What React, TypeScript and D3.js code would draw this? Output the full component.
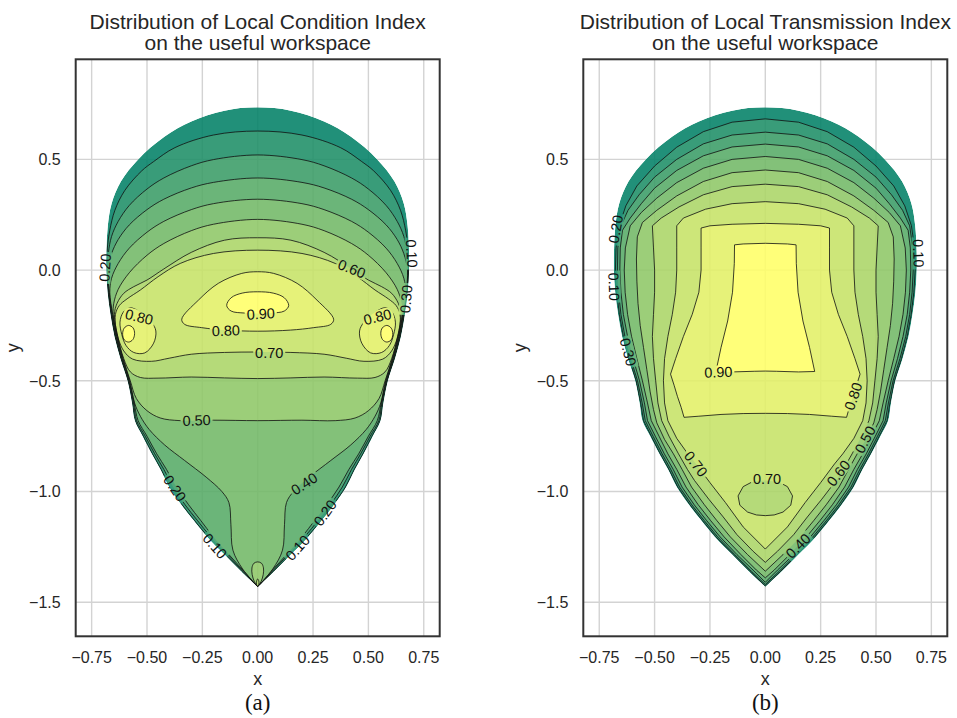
import React from "react";
import * as d3 from "d3";

type P = [number, number];

// axis ticks and contour levels
const xTicks = [-0.75, -0.5, -0.25, 0, 0.25, 0.5, 0.75];
const yTicks = [0.5, 0, -0.5, -1, -1.5];
const levels = [0.1, 0.2, 0.3, 0.4, 0.5, 0.6, 0.7, 0.8, 0.9];

// useful workspace outline: right half, from the top down to the lower tip (mirrored for the left half)
const workspaceHalf: P[] = [
  [0, 0.735], [0.15, 0.72], [0.3, 0.671], [0.42, 0.603], [0.54, 0.5], [0.618, 0.4], [0.66, 0.3],
  [0.677, 0.2], [0.683, 0.1], [0.684, 0], [0.678, -0.1], [0.665, -0.2], [0.647, -0.3], [0.62, -0.4],
  [0.588, -0.5], [0.568, -0.6], [0.555, -0.68], [0.52, -0.75], [0.479, -0.83], [0.44, -0.9],
  [0.4, -0.98], [0.345, -1.06], [0.29, -1.13], [0.228, -1.205], [0.15, -1.285], [0.075, -1.36], [0, -1.431],
];

// (a) Local Condition Index: superlevel outlines, right halves (top -> bottom)
const lci01: P[] = [
  [0, 0.628], [0.2, 0.61], [0.374, 0.553], [0.47, 0.49], [0.524, 0.448], [0.6, 0.36], [0.645, 0.27],
  [0.668, 0.18], [0.679, 0.1], [0.6815, 0], [0.6755, -0.1], [0.6625, -0.2], [0.6445, -0.3], [0.6175, -0.4],
  [0.5855, -0.5], [0.565, -0.6], [0.552, -0.68], [0.516, -0.75], [0.475, -0.83], [0.436, -0.9], [0.396, -0.98],
  [0.341, -1.06], [0.286, -1.13], [0.224, -1.205], [0.146, -1.285], [0.072, -1.36], [0, -1.431],
];
const lci02: P[] = [
  [0, 0.52], [0.2, 0.499], [0.3, 0.471], [0.424, 0.416], [0.5, 0.366], [0.58, 0.292], [0.63, 0.22],
  [0.66, 0.152], [0.674, 0.08], [0.679, 0], [0.673, -0.1], [0.66, -0.2], [0.642, -0.3], [0.615, -0.4],
  [0.583, -0.5], [0.561, -0.6], [0.547, -0.68], [0.508, -0.75], [0.465, -0.83], [0.424, -0.9], [0.382, -0.98],
  [0.328, -1.06], [0.273, -1.13], [0.212, -1.205], [0.137, -1.285], [0.067, -1.36], [0, -1.431],
];
const lci03: P[] = [
  [0, 0.416], [0.2, 0.396], [0.3, 0.371], [0.424, 0.32], [0.5, 0.273], [0.58, 0.204], [0.63, 0.138],
  [0.66, 0.074], [0.6765, 0], [0.6705, -0.1], [0.6575, -0.2], [0.6395, -0.3], [0.6125, -0.4], [0.5805, -0.5],
  [0.558, -0.6], [0.54, -0.68], [0.5, -0.75], [0.456, -0.83], [0.412, -0.9], [0.367, -0.98], [0.312, -1.06],
  [0.258, -1.13], [0.2, -1.205], [0.13, -1.285], [0.062, -1.36], [0, -1.431],
];
const lci04: P[] = [
  [0, 0.32], [0.2, 0.3], [0.3, 0.273], [0.424, 0.22], [0.5, 0.171], [0.58, 0.099], [0.63, 0.03],
  [0.66, -0.037], [0.668, -0.1], [0.655, -0.2], [0.637, -0.3], [0.61, -0.4], [0.578, -0.5], [0.556, -0.6],
  [0.53, -0.66], [0.49, -0.72], [0.42, -0.79], [0.33, -0.86], [0.233, -0.935], [0.162, -1.0], [0.13, -1.05],
  [0.121, -1.15], [0.112, -1.265], [0.068, -1.35], [0, -1.431],
];
const lci05: P[] = [
  [0, 0.229], [0.2, 0.207], [0.3, 0.178], [0.424, 0.12], [0.5, 0.067], [0.58, -0.012], [0.63, -0.087],
  [0.65, -0.15], [0.6525, -0.2], [0.6345, -0.3], [0.6075, -0.4], [0.5755, -0.5], [0.548, -0.58],
  [0.5, -0.635], [0.44, -0.668], [0.35, -0.68], [0.2, -0.678], [0, -0.68],
];
const lci05Tip: P[] = [
  [0, -1.318], [0.017, -1.324], [0.026, -1.345], [0.025, -1.375], [0.016, -1.405], [0.006, -1.422], [0, -1.431],
];
const lci06: P[] = [
  [0, 0.146], [0.15, 0.135], [0.3, 0.08], [0.424, 0.005], [0.5, -0.045], [0.56, -0.075], [0.605, -0.105],
  [0.635, -0.15], [0.647, -0.2], [0.632, -0.3], [0.605, -0.4], [0.575, -0.46], [0.53, -0.485],
  [0.45, -0.488], [0.3, -0.483], [0.15, -0.487], [0, -0.49],
];
const lci06Tip: P[] = [[0, -1.395], [0.005, -1.405], [0.005, -1.42], [0, -1.431]];
const lci07: P[] = [
  [0, 0.09], [0.2, 0.075], [0.35, 0.03], [0.45, -0.03], [0.53, -0.09], [0.59, -0.13], [0.625, -0.16],
  [0.6425, -0.2], [0.641, -0.26], [0.6295, -0.31], [0.605, -0.365], [0.565, -0.402], [0.48, -0.412],
  [0.4, -0.398], [0.3, -0.38], [0.15, -0.372], [0, -0.37],
];
const lci08Mid: P[] = [
  [0, -0.0075], [0.072, -0.015], [0.178, -0.06], [0.268, -0.136], [0.343, -0.222], [0.33, -0.245],
  [0.253, -0.26], [0.148, -0.271], [0, -0.276],
];
const lci08Side: P[] = [
  [0.577, -0.17], [0.607, -0.19], [0.622, -0.235], [0.614, -0.29], [0.595, -0.34], [0.56, -0.372],
  [0.51, -0.374], [0.47, -0.33], [0.46, -0.275], [0.48, -0.235], [0.53, -0.19],
];
const lci09Mid: P[] = [
  [0, -0.098], [0.07, -0.104], [0.12, -0.125], [0.14, -0.16], [0.12, -0.185], [0.06, -0.194], [0, -0.196],
];
const lci09Side: P[] = [
  [0.583, -0.25], [0.603, -0.262], [0.61, -0.29], [0.602, -0.316], [0.583, -0.325], [0.564, -0.314],
  [0.556, -0.287], [0.563, -0.261],
];
// [text, x, y, angle]
const lciLabels: [string, number, number, number][] = [
  ["0.90", 0.014, -0.197, -3], ["0.80", -0.144, -0.273, -2], ["0.70", 0.052, -0.372, 0],
  ["0.60", 0.425, 0.006, 22], ["0.80", -0.535, -0.211, 14], ["0.80", 0.541, -0.211, -14],
  ["0.50", -0.276, -0.678, -2], ["0.20", -0.69, 0.011, -86], ["0.10", 0.696, 0.075, 87],
  ["0.30", 0.67, -0.131, -85], ["0.20", -0.374, -0.986, 55], ["0.10", -0.193, -1.246, 48],
  ["0.40", 0.21, -0.965, -33], ["0.20", 0.304, -1.096, -54], ["0.10", 0.18, -1.254, -48],
];

// (b) Local Transmission Index
const lti01: P[] = [
  [0, 0.683], [0.15, 0.668], [0.28, 0.625], [0.4, 0.555], [0.5, 0.47], [0.58, 0.38], [0.63, 0.29],
  [0.66, 0.2], [0.674, 0.1], [0.677, 0], [0.671, -0.1], [0.659, -0.2], [0.641, -0.3], [0.615, -0.4],
  [0.583, -0.5], [0.563, -0.6], [0.55, -0.68], [0.515, -0.75], [0.474, -0.83], [0.435, -0.9], [0.395, -0.98],
  [0.34, -1.06], [0.285, -1.13], [0.223, -1.205], [0.145, -1.285], [0.07, -1.36], [0, -1.427],
];
const lti02: P[] = [
  [0, 0.623], [0.15, 0.61], [0.28, 0.57], [0.4, 0.5], [0.5, 0.42], [0.57, 0.34], [0.62, 0.27],
  [0.652, 0.2], [0.666, 0.1], [0.668, 0], [0.663, -0.1], [0.652, -0.2], [0.634, -0.3], [0.608, -0.4],
  [0.577, -0.5], [0.556, -0.6], [0.542, -0.68], [0.507, -0.75], [0.466, -0.83], [0.427, -0.9], [0.387, -0.98],
  [0.332, -1.06], [0.277, -1.13], [0.215, -1.205], [0.138, -1.285], [0.063, -1.36], [0, -1.42],
];
const lti03: P[] = [
  [0, 0.569], [0.15, 0.556], [0.28, 0.516], [0.4, 0.45], [0.5, 0.37], [0.56, 0.3], [0.61, 0.235],
  [0.645, 0.18], [0.655, 0.1], [0.657, 0], [0.652, -0.1], [0.641, -0.2], [0.622, -0.3], [0.597, -0.4],
  [0.568, -0.5], [0.546, -0.6], [0.532, -0.68], [0.497, -0.75], [0.456, -0.83], [0.416, -0.9], [0.376, -0.98],
  [0.321, -1.06], [0.266, -1.13], [0.204, -1.205], [0.128, -1.285], [0.055, -1.355], [0, -1.41],
];
const lti04: P[] = [
  [0, 0.513], [0.15, 0.5], [0.28, 0.46], [0.4, 0.395], [0.49, 0.325], [0.56, 0.26], [0.61, 0.2],
  [0.632, 0.1], [0.637, 0], [0.633, -0.1], [0.622, -0.2], [0.604, -0.3], [0.58, -0.4], [0.555, -0.5],
  [0.532, -0.6], [0.515, -0.68], [0.48, -0.75], [0.44, -0.83], [0.4, -0.9], [0.358, -0.98], [0.303, -1.06],
  [0.248, -1.13], [0.186, -1.205], [0.11, -1.285], [0.04, -1.355], [0, -1.39],
];
const lti05: P[] = [
  [0, 0.452], [0.15, 0.44], [0.28, 0.4], [0.4, 0.335], [0.49, 0.27], [0.555, 0.215], [0.578, 0.15],
  [0.582, 0.05], [0.58, -0.05], [0.575, -0.15], [0.565, -0.25], [0.55, -0.35], [0.535, -0.45], [0.52, -0.55],
  [0.505, -0.63], [0.49, -0.69], [0.455, -0.765], [0.415, -0.83], [0.376, -0.9], [0.333, -0.98],
  [0.275, -1.06], [0.22, -1.13], [0.158, -1.205], [0.08, -1.285], [0, -1.36],
];
const lti06: P[] = [
  [0, 0.388], [0.15, 0.377], [0.28, 0.34], [0.39, 0.285], [0.47, 0.235], [0.51, 0.2], [0.505, 0.1],
  [0.5, 0], [0.5, -0.1], [0.505, -0.2], [0.51, -0.3], [0.505, -0.4], [0.495, -0.5], [0.485, -0.6],
  [0.468, -0.68], [0.435, -0.75], [0.392, -0.83], [0.352, -0.9], [0.32, -0.95], [0.255, -1.035],
  [0.19, -1.115], [0.128, -1.195], [0.055, -1.27], [0, -1.32],
];
const lti07: P[] = [
  [0, 0.309], [0.15, 0.3], [0.27, 0.275], [0.37, 0.235], [0.4, 0.2], [0.4, 0.1], [0.4, 0], [0.405, -0.1],
  [0.42, -0.2], [0.44, -0.3], [0.455, -0.4], [0.46, -0.5], [0.455, -0.6], [0.44, -0.68], [0.4, -0.76],
  [0.35, -0.83], [0.313, -0.875], [0.25, -0.96], [0.18, -1.05], [0.1, -1.16], [0, -1.26],
];
const lti07Hole: P[] = [
  [0, -0.95], [0.06, -0.957], [0.1, -0.978], [0.123, -1.02], [0.115, -1.062], [0.08, -1.093], [0.04, -1.106], [0, -1.109],
];
const lti08: P[] = [
  [0, 0.211], [0.15, 0.207], [0.25, 0.2], [0.29, 0.19], [0.29, 0.1], [0.29, 0], [0.3, -0.1], [0.33, -0.2],
  [0.37, -0.3], [0.405, -0.4], [0.428, -0.47], [0.412, -0.52], [0.397, -0.57], [0.38, -0.62], [0.367, -0.665],
  [0.3, -0.66], [0.2, -0.652], [0.1, -0.648], [0, -0.647],
];
const lti09: P[] = [
  [0, 0.121], [0.1, 0.118], [0.139, 0.114], [0.14, 0.03], [0.148, -0.1], [0.17, -0.23], [0.2, -0.35],
  [0.223, -0.458], [0.15, -0.46], [0.05, -0.457], [0, -0.456],
];
const ltiLabels: [string, number, number, number][] = [
  ["0.20", -0.676, 0.185, -80], ["0.10", -0.683, -0.075, 88], ["0.30", -0.619, -0.37, 75],
  ["0.10", 0.692, 0.076, 88], ["0.90", -0.212, -0.46, -2], ["0.80", 0.397, -0.57, -71],
  ["0.70", -0.313, -0.875, 52], ["0.70", 0.008, -0.943, 0], ["0.60", 0.33, -0.917, -52],
  ["0.50", 0.45, -0.765, -62], ["0.40", 0.148, -1.245, -45],
];

type Part = ["tip" | "half" | "pair", P[]];

const lciContours: Part[][] = [
  [["tip", lci01]],
  [["tip", lci02]],
  [["tip", lci03]],
  [["tip", lci04]],
  [["half", lci05], ["tip", lci05Tip]],
  [["half", lci06], ["tip", lci06Tip]],
  [["half", lci07]],
  [["half", lci08Mid], ["pair", lci08Side]],
  [["half", lci09Mid], ["pair", lci09Side]],
];
const ltiContours: Part[][] = [
  [["half", lti01]],
  [["half", lti02]],
  [["half", lti03]],
  [["half", lti04]],
  [["half", lti05]],
  [["half", lti06]],
  [["half", lti07], ["half", lti07Hole]],
  [["half", lti08]],
  [["half", lti09]],
];

const W = 364;
const H = 577;
const TOP = 59.3;
const FONT = "'Liberation Sans', Arial, Helvetica, sans-serif";

const summer = d3.interpolateRgb("rgb(0,128,102)", "rgb(255,255,102)");

const mirror = (pts: P[]): P[] => pts.map(([x, y]) => [-x, y] as P);
const halfToRing = (half: P[]): P[] => [...half, ...mirror(half.slice(1, -1)).reverse()];
const halfToTipPath = (half: P[]): P[] => [...half.slice().reverse(), ...mirror(half.slice(1))];

const fmtX = (v: number) => (v < 0 ? "\u2212" : "") + Math.abs(v).toFixed(2);
const fmtY = (v: number) => (v < 0 ? "\u2212" : "") + Math.abs(v).toFixed(1);

function Panel({ x0, id, contours, labels, smooth, title, tag }: {
  x0: number; id: string; contours: Part[][]; labels: [string, number, number, number][];
  smooth: boolean; title: string[]; tag: string;
}) {
  const xs = d3.scaleLinear().domain([-0.822, 0.822]).range([0, W]);
  const ys = d3.scaleLinear().domain([0.952, -1.654]).range([0, H]);

  const base = d3.line<P>().x((d) => xs(d[0])).y((d) => ys(d[1]));
  const closed = base.curve(smooth ? d3.curveCatmullRomClosed.alpha(0.5) : d3.curveLinearClosed);
  const closedPath = (pts: P[]) => closed(pts) as string;
  const openPath = (pts: P[]) =>
    (d3.line<P>().x((d) => xs(d[0])).y((d) => ys(d[1]))
      .curve(smooth ? d3.curveCatmullRom.alpha(0.5) : d3.curveLinear)(pts) as string) + "Z";

  const partPath = ([kind, pts]: Part) => {
    if (kind === "tip") return openPath(halfToTipPath(pts));
    if (kind === "half") return closedPath(halfToRing(pts));
    return closedPath(pts) + closedPath(mirror(pts));
  };

  const outline = (d3.line<P>().x((d) => xs(d[0])).y((d) => ys(d[1]))
    .curve(d3.curveCatmullRom.alpha(0.5))(halfToTipPath(workspaceHalf)) as string) + "Z";
  const levelPaths = contours.map((parts) => parts.map(partPath).join(""));

  return (
    <g transform={`translate(${x0},${TOP})`}>
      <defs>
        <clipPath id={`clip-${id}`}>
          <path d={outline} />
        </clipPath>
        <mask id={`mask-${id}`} maskUnits="userSpaceOnUse" x={-100} y={-100} width={W + 200} height={H + 200}>
          <rect x={-100} y={-100} width={W + 200} height={H + 200} fill="white" />
          {labels.map(([t, lx, ly, a], i) => (
            <rect key={i} x={-16} y={-6.5} width={32} height={13} fill="black"
              transform={`translate(${xs(lx)},${ys(ly)}) rotate(${a})`} />
          ))}
        </mask>
      </defs>

      {/* grid */}
      {xTicks.map((v) => (
        <line key={`gx${v}`} x1={xs(v)} x2={xs(v)} y1={0} y2={H} stroke="#d3d3d3" strokeWidth={1.4} />
      ))}
      {yTicks.map((v) => (
        <line key={`gy${v}`} x1={0} x2={W} y1={ys(v)} y2={ys(v)} stroke="#d3d3d3" strokeWidth={1.4} />
      ))}

      {/* filled bands */}
      <g clipPath={`url(#clip-${id})`} opacity={0.87}>
        <path d={outline} fill={summer(0)} />
        {levelPaths.map((d, i) => (
          <path key={levels[i]} d={d} fill={summer((i + 1) / 9)} fillRule="evenodd" />
        ))}
      </g>

      {/* contour lines */}
      <g mask={`url(#mask-${id})`}>
        <g clipPath={`url(#clip-${id})`}>
          {levelPaths.map((d, i) => (
            <path key={levels[i]} d={d} fill="none" stroke="#111" strokeWidth={0.9} strokeOpacity={0.9} />
          ))}
        </g>
      </g>

      {labels.map(([t, lx, ly, a], i) => (
        <text key={i} transform={`translate(${xs(lx)},${ys(ly)}) rotate(${a})`} textAnchor="middle"
          dy="0.36em" fontSize={14.5} fontFamily={FONT} fill="#111">{t}</text>
      ))}

      {/* frame */}
      <rect x={0} y={0} width={W} height={H} fill="none" stroke="#333" strokeWidth={2} />

      {/* ticks */}
      {xTicks.map((v) => (
        <text key={`tx${v}`} x={xs(v)} y={H + 27} textAnchor="middle" fontSize={16} fontFamily={FONT} fill="#262626">
          {fmtX(v)}
        </text>
      ))}
      {yTicks.map((v) => (
        <text key={`ty${v}`} x={-15} y={ys(v) + 5.8} textAnchor="end" fontSize={16} fontFamily={FONT} fill="#262626">
          {fmtY(v)}
        </text>
      ))}

      <text x={W / 2} y={H + 49} textAnchor="middle" fontSize={18} fontFamily={FONT} fill="#262626">x</text>
      <text transform={`translate(-57,${H / 2}) rotate(-90)`} textAnchor="middle" fontSize={18}
        fontFamily={FONT} fill="#262626">y</text>

      <text x={W / 2} y={-30.5} textAnchor="middle" fontSize={21} fontFamily={FONT} fill="#262626">{title[0]}</text>
      <text x={W / 2} y={-9.5} textAnchor="middle" fontSize={21} fontFamily={FONT} fill="#262626">{title[1]}</text>

      <text x={W / 2} y={651} textAnchor="middle" fontSize={23}
        fontFamily="'Liberation Serif', 'Times New Roman', serif" fill="#111">{tag}</text>
    </g>
  );
}

export default function App() {
  return (
    <div style={{ position: "absolute", left: 0, top: 0 }}>
      <svg width={957} height={718} style={{ display: "block", background: "white" }}>
        <Panel x0={75.7} id="lci" contours={lciContours} labels={lciLabels} smooth={true}
          title={["Distribution of Local Condition Index", "on the useful workspace"]} tag="(a)" />
        <Panel x0={583.3} id="lti" contours={ltiContours} labels={ltiLabels} smooth={false}
          title={["Distribution of Local Transmission Index", "on the useful workspace"]} tag="(b)" />
      </svg>
    </div>
  );
}
